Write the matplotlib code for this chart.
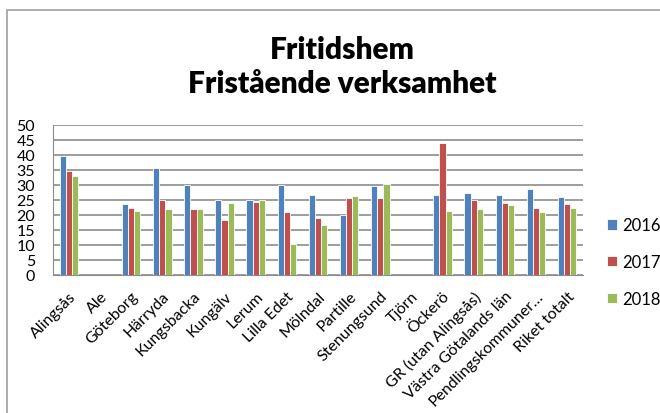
import numpy as np
import matplotlib
matplotlib.use("Agg")
import matplotlib.pyplot as plt
from matplotlib.patches import Rectangle

categories = ["Alingsås", "Ale", "Göteborg", "Härryda", "Kungsbacka", "Kungälv",
              "Lerum", "Lilla Edet", "Mölndal", "Partille", "Stenungsund", "Tjörn",
              "Öckerö", "GR (utan Alingsås)", "Västra Götalands län",
              "Pendlingskommuner…", "Riket totalt"]
nan = float("nan")
v2016 = [39.7, nan, 23.7, 35.6, 29.8, 24.8, 24.9, 29.8, 26.6, 20.1, 29.7, nan, 26.7, 27.2, 26.6, 28.7, 26.1]
v2017 = [34.7, nan, 22.4, 24.9, 22.1, 18.3, 24.2, 21.0, 18.8, 25.7, 25.5, nan, 43.8, 24.8, 23.8, 22.3, 23.6]
v2018 = [33.0, nan, 21.2, 22.0, 22.1, 23.9, 24.9, 10.4, 16.6, 26.4, 30.3, nan, 21.2, 22.0, 23.4, 21.1, 22.4]
series = ["2016", "2017", "2018"]
colors = ["#4F81BD", "#C0504D", "#9BBB59"]
title = "Fritidshem\nFristående verksamhet"
yticks = [0, 5, 10, 15, 20, 25, 30, 35, 40, 45, 50]

plt.rcParams['font.family'] = ['Lato', 'DejaVu Sans']

fig = plt.figure(figsize=(6.6, 4.14), dpi=100)
# outer chart frame (extends beyond right/bottom edge)
fig.patches.append(Rectangle((7/660, -0.1), 1.2, 1 - 11/414 + 0.1, transform=fig.transFigure,
                             fill=False, edgecolor="#A6A6A6", linewidth=1.3))

ax = fig.add_axes([53.3/660, 1 - 276/414, (582.7 - 53.3)/660, (276 - 125.7)/414])
n = len(categories)
x = np.arange(n)
w = 0.2
for i, (vals, c, s) in enumerate(zip([v2016, v2017, v2018], colors, series)):
    ax.bar(x + (i - 1) * w, vals, width=w, color=c, edgecolor="white", linewidth=0.6,
           label=s, zorder=3)

ax.set_xlim(-0.5, n - 0.5)
ax.set_ylim(0, 50)
ax.set_yticks(yticks)
ax.yaxis.grid(True, color="#8C8C8C", linewidth=1.2, zorder=0)
ax.set_axisbelow(True)
for sp in ["top", "right"]:
    ax.spines[sp].set_visible(False)
ax.spines["left"].set_color("#8C8C8C")
ax.spines["bottom"].set_color("#8C8C8C")
ax.tick_params(axis="y", length=0, pad=13, labelsize=11.5)
ax.tick_params(axis="x", length=0, pad=10, labelsize=11.5)
ax.set_xticks(x)
ax.set_xticklabels(categories, rotation=45, ha="right", rotation_mode="anchor")

fig.text(0.519, 1 - 36/414, title, ha="center", va="top", fontsize=21.5,
         fontweight="heavy", linespacing=1.25)

fig.legend(loc="center left", bbox_to_anchor=(607/660, 1 - 263/414), frameon=False,
           fontsize=12, handlelength=0.6, handleheight=0.6, handletextpad=0.3,
           labelspacing=1.25, borderaxespad=0, borderpad=0)

fig.savefig("out.png", dpi=100)
